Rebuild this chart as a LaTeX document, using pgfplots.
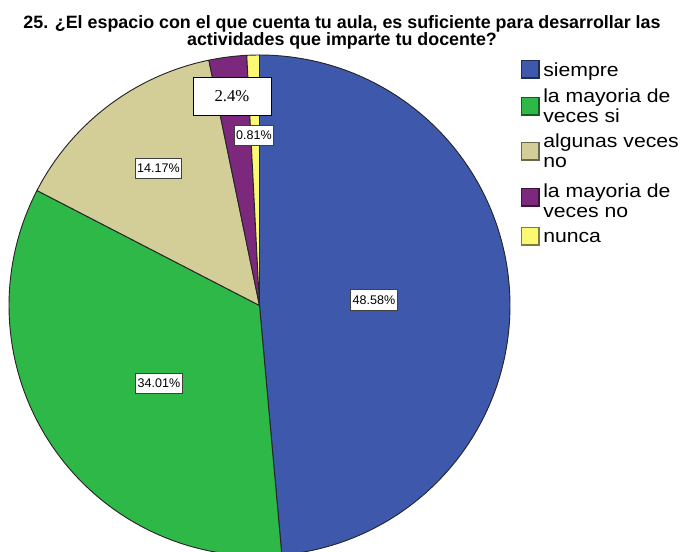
\documentclass[border=0pt]{standalone}
\usepackage{pgfplots}
\pgfplotsset{compat=1.18}
\usepackage{fontspec}
\setmainfont{Liberation Sans}
\newfontfamily\seriffont{Liberation Serif}
\newfontfamily\legfont[FakeStretch=1.12]{Liberation Sans}
\definecolor{cblue}{HTML}{3E58AC}
\definecolor{cgreen}{HTML}{2EB848}
\definecolor{ctan}{HTML}{D3CE97}
\definecolor{cpurple}{HTML}{7C287D}
\definecolor{cyellow}{HTML}{FBF873}
% percentages (n = 247)
\def\pA{48.58}\def\pB{34.01}\def\pC{14.17}\def\pD{2.43}\def\pE{0.81}
\pgfmathsetmacro\aZ{90}
\pgfmathsetmacro\aA{\aZ-3.6*\pA}
\pgfmathsetmacro\aB{\aA-3.6*\pB}
\pgfmathsetmacro\aC{\aB-3.6*\pC}
\pgfmathsetmacro\aD{\aC-3.6*\pD}
\pgfmathsetmacro\aE{\aD-3.6*\pE}
\def\cx{259.5}\def\cy{305.5}\def\rr{250.5}
\tikzset{
  slice/.style={draw=black!85, line width=0.7pt, line join=round},
  lab/.style={draw=black!75, fill=white, line width=0.7pt, inner sep=1.4pt,
              font=\fontsize{9.4}{10}\selectfont, minimum height=15.5pt},
}
\begin{document}
\begin{tikzpicture}
\useasboundingbox (0,0) rectangle (511.5pt,414pt);
\begin{axis}[
  at={(0,0)}, anchor=south west,
  scale only axis, width=511.5pt, height=414pt,
  xmin=0, xmax=682, ymin=0, ymax=552, y dir=reverse,
  hide axis, clip=true,
]
\addplot[slice, fill=cblue, domain=\aA:\aZ, samples=150, variable=\t]
  ({\cx+\rr*cos(\t)},{\cy-\rr*sin(\t)}) -- (axis cs:\cx,\cy) -- cycle;
\addplot[slice, fill=cgreen, domain=\aB:\aA, samples=120, variable=\t]
  ({\cx+\rr*cos(\t)},{\cy-\rr*sin(\t)}) -- (axis cs:\cx,\cy) -- cycle;
\addplot[slice, fill=ctan, domain=\aC:\aB, samples=60, variable=\t]
  ({\cx+\rr*cos(\t)},{\cy-\rr*sin(\t)}) -- (axis cs:\cx,\cy) -- cycle;
\addplot[slice, fill=cpurple, domain=\aD:\aC, samples=15, variable=\t]
  ({\cx+\rr*cos(\t)},{\cy-\rr*sin(\t)}) -- (axis cs:\cx,\cy) -- cycle;
\addplot[slice, fill=cyellow, domain=\aE:\aD, samples=8, variable=\t]
  ({\cx+\rr*cos(\t)},{\cy-\rr*sin(\t)}) -- (axis cs:\cx,\cy) -- cycle;

% slice labels
\node[lab] at (axis cs:374,300) {48.58\%};
\node[lab] at (axis cs:159,383.5) {34.01\%};
\node[lab] at (axis cs:158.5,168.5) {14.17\%};
\node[lab] at (axis cs:254,135.5) {0.81\%};
\node[draw=black, fill=white, line width=0.7pt, minimum width=58.5pt, minimum height=29pt,
      inner sep=0pt, font=\seriffont\fontsize{12.5}{13}\selectfont] at (axis cs:232,96.5) {2.4\%};

% title
\begin{scope}[every node/.style={font=\fontsize{13.4}{13}\selectfont\bfseries, anchor=base, inner sep=0pt}]
\node at (axis cs:342,29) {25. ¿El espacio con el que cuenta tu aula, es suficiente para desarrollar las};
\node at (axis cs:342,46) {actividades que imparte tu docente?};
\end{scope}

% legend
\draw[fill=cblue, draw=cblue!50!black, line width=0.8pt] (axis cs:521.5,60.5) rectangle (axis cs:539,78);
\draw[fill=cgreen, draw=cgreen!50!black, line width=0.8pt] (axis cs:521.5,97.5) rectangle (axis cs:539,115);
\draw[fill=ctan, draw=ctan!50!black, line width=0.8pt] (axis cs:521.5,142.5) rectangle (axis cs:539,160);
\draw[fill=cpurple, draw=cpurple!50!black, line width=0.8pt] (axis cs:521.5,188.5) rectangle (axis cs:539,206);
\draw[fill=cyellow, draw=cyellow!50!black, line width=0.8pt] (axis cs:521.5,227.5) rectangle (axis cs:539,245);
\begin{scope}[every node/.style={anchor=base west, inner sep=0pt, font=\legfont\fontsize{14.2}{15}\selectfont}]
\node at (axis cs:543,77) {siempre};
\node at (axis cs:543,103) {la mayoria de};
\node at (axis cs:543,123) {veces si};
\node at (axis cs:543,148) {algunas veces};
\node at (axis cs:543,168) {no};
\node at (axis cs:543,198) {la mayoria de};
\node at (axis cs:543,218) {veces no};
\node at (axis cs:543,243) {nunca};
\end{scope}
\end{axis}
\end{tikzpicture}
\end{document}
